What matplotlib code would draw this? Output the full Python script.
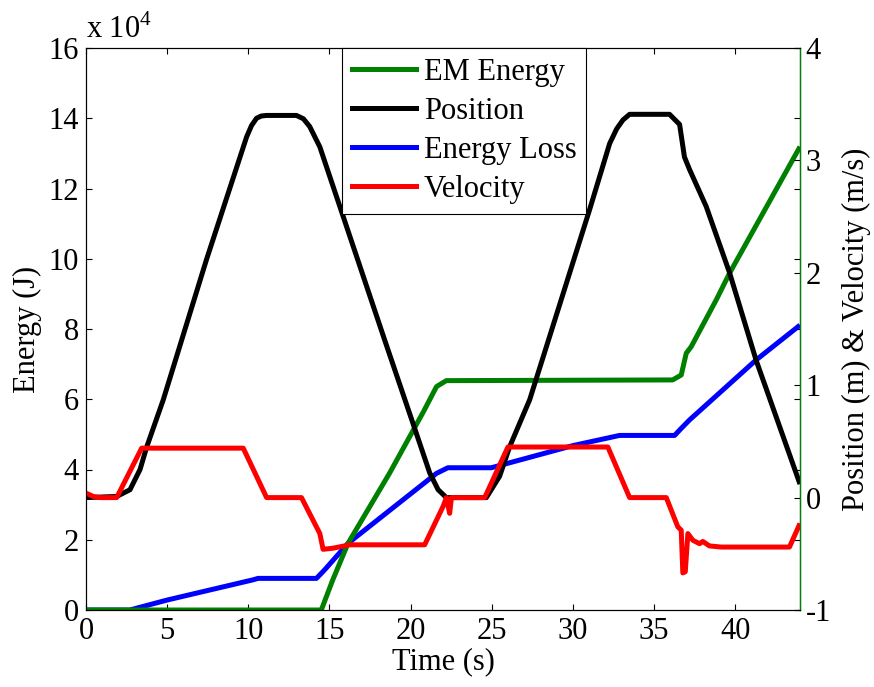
import matplotlib
matplotlib.use("Agg")
import matplotlib.pyplot as plt
from matplotlib.lines import Line2D
from matplotlib.ticker import FuncFormatter, MultipleLocator

plt.rcParams["font.family"] = ["Liberation Serif", "DejaVu Serif"]
plt.rcParams["mathtext.fontset"] = "custom"
plt.rcParams["mathtext.rm"] = "Liberation Serif"
plt.rcParams["axes.unicode_minus"] = False

ENERGY_SCALE = 1e4  # energies below are in units of 10^4 J

# EM energy (left axis)
t_em = [0, 14.5, 15.2, 16.15, 18.7, 20.8, 21.6, 22.2, 36.15, 36.68, 36.99, 37.3, 38.84, 39.66, 44]
em_energy = [0, 0, 0.85, 1.90, 3.89, 5.65, 6.36, 6.53, 6.55, 6.69, 7.31, 7.50, 8.83, 9.59, 13.19]

# energy loss (left axis)
t_loss = [0, 2.7, 4.97, 10.3, 10.6, 14.2, 14.7, 16.15, 21.6, 22.3, 24.98, 30.0, 32.88, 36.27,
          36.68, 37.19, 41.3, 44]
energy_loss = [0, 0, 0.28, 0.86, 0.90, 0.90, 1.14, 1.90, 3.89, 4.05, 4.05, 4.68, 4.97, 4.97,
               5.17, 5.41, 7.12, 8.11]

# position (right axis)
t_pos = [0, 1.89, 2.71, 3.33, 3.74, 4.76, 7.43, 9.9, 10.2, 10.51, 10.8, 11.13, 12.97, 13.4,
         13.79, 14.41, 18.41, 20.15, 21.18, 21.7, 22.21, 24.67, 25.49, 26.1, 27.34, 31.03,
         32.27, 32.7, 33.09, 33.5, 35.96, 36.58, 36.88, 37.19, 38.22, 39.66, 41.3, 44]
position = [0, 0.01, 0.07, 0.25, 0.45, 0.87, 2.12, 3.21, 3.31, 3.375, 3.395, 3.40, 3.40, 3.37,
            3.30, 3.12, 1.40, 0.66, 0.22, 0.07, 0.0, 0.0, 0.19, 0.45, 0.87, 2.56,
            3.15, 3.28, 3.36, 3.41, 3.41, 3.32, 3.03, 2.92, 2.59, 2.0, 1.22, 0.12]

# velocity (right axis)
t_vel = [0, 0.45, 0.86, 1.89, 3.43, 9.69, 11.13, 13.28, 14.41, 14.61, 15.23, 16.26, 20.87, 22.0,
         22.21, 22.41, 22.52, 24.57, 26.0, 32.16, 33.5, 35.76, 36.47, 36.68, 36.78, 36.93,
         37.09, 37.4, 37.81, 38.01, 38.42, 39.14, 43.35, 44]
velocity = [0.04, 0.01, 0.0, 0.0, 0.44, 0.44, 0.0, 0.0, -0.32, -0.46, -0.45, -0.42, -0.42, -0.08,
            0.0, -0.14, 0.0, 0.0, 0.45, 0.45, 0.0, 0.0, -0.26, -0.29, -0.67, -0.66,
            -0.32, -0.38, -0.41, -0.39, -0.43, -0.44, -0.44, -0.23]

FS = 22
LW = 3.6
GREEN = "#008000"

fig = plt.figure(figsize=(8.74, 6.87), dpi=100)
ax = fig.add_axes([86 / 874, 77 / 687, 714 / 874, 562 / 687])
ax2 = ax.twinx()

ax.plot(t_loss, [v * ENERGY_SCALE for v in energy_loss], color="blue", lw=LW, solid_capstyle="butt")
ax.plot(t_em, [v * ENERGY_SCALE for v in em_energy], color=GREEN, lw=LW, solid_capstyle="butt")
ax2.plot(t_pos, position, color="black", lw=LW, solid_capstyle="butt")
ax2.plot(t_vel, velocity, color="red", lw=LW, solid_capstyle="butt")

ax.set_xlim(0, 44)
ax.set_ylim(0, 16e4)
ax2.set_ylim(-1, 4)
ax.xaxis.set_major_locator(MultipleLocator(5))
ax.yaxis.set_major_locator(MultipleLocator(2e4))
ax.yaxis.set_major_formatter(FuncFormatter(lambda y, _: f"{y / ENERGY_SCALE:g}"))
ax2.yaxis.set_major_locator(MultipleLocator(1))

ax.tick_params(direction="in", length=4, width=0.8, labelsize=FS, pad=5,
               top=True, right=True)
ax2.tick_params(direction="in", length=4, width=0.8, labelsize=FS, pad=4)
for side in ("left", "top", "bottom"):
    ax.spines[side].set_linewidth(0.8)
ax2.spines["right"].set_color(GREEN)
ax2.spines["right"].set_linewidth(1.0)

ax.set_xlabel("Time (s)", fontsize=FS, labelpad=1)
ax.set_ylabel("Energy (J)", fontsize=FS, labelpad=5)
ax2.set_ylabel("Position (m) & Velocity (m/s)", fontsize=FS, labelpad=8)
ax.text(0.0, 1.018, r"x 10$^{4}$", transform=ax.transAxes, fontsize=FS,
        ha="left", va="baseline")

handles = [Line2D([], [], color=GREEN, lw=LW),
           Line2D([], [], color="black", lw=LW),
           Line2D([], [], color="blue", lw=LW),
           Line2D([], [], color="red", lw=LW)]
leg = fig.legend(handles, ["EM Energy", "Position", "Energy Loss", "Velocity"],
                 loc="upper left", bbox_to_anchor=(342 / 874, 1 - 48 / 687),
                 fontsize=FS, frameon=True, fancybox=False, framealpha=1,
                 edgecolor="black", handlelength=2.1, handletextpad=0.25,
                 labelspacing=0.33, borderpad=0.32, borderaxespad=0)
leg.get_frame().set_linewidth(0.8)

fig.savefig("out.png", dpi=100, facecolor="white")
